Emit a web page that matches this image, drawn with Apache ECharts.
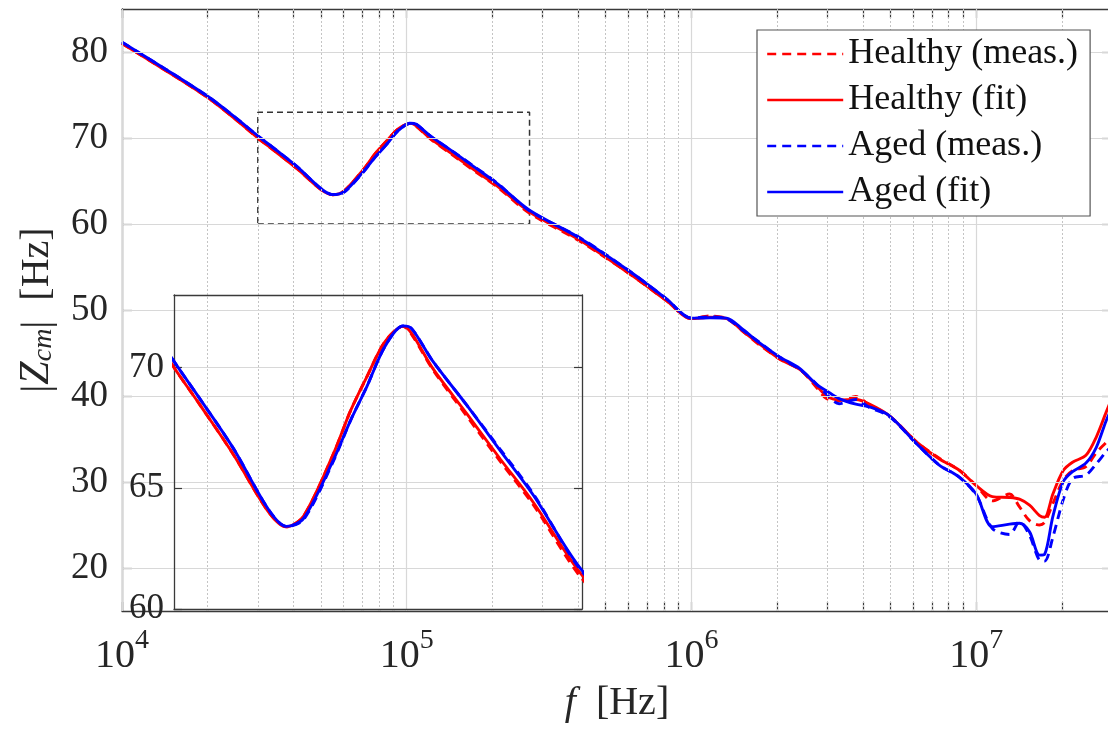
<!DOCTYPE html>
<html><head><meta charset="utf-8">
<script src="https://cdn.jsdelivr.net/npm/echarts@6/dist/echarts.min.js"></script>
<style>html,body{margin:0;padding:0;background:#fff}#c{width:1108px;height:733px}</style>
</head><body><div id="c"></div>
<script>
// ---- data ----
const freq = [1e4,1.4e4,2e4,2.5e4,3e4,3.45e4,4.13e4,5e4,5.5e4,6.03e4,
  7.07e4,7.76e4,8.47e4,9.33e4,1.03e5,1.08e5,1.21e5,1.45e5,1.74e5,2.08e5,
  2.7e5,4.06e5,6.07e5,8.17e5,1e6,1.16e6,1.33e6,1.52e6,1.74e6,2.04e6,
  2.4e6,2.75e6,2.98e6,3.3e6,3.78e6,4.2e6,4.96e6,6.2e6,7.4e6,8.7e6,
  1e7,1.14e7,1.31e7,1.42e7,1.54e7,1.67e7,1.74e7,1.86e7,2.02e7,2.18e7,
  2.43e7,2.64e7,2.86e7,3e7];
const healthyMeas = [81.0,78.0,74.7,72.2,70.0,68.45,66.4,64.0,63.4,63.85,
  66.4,68.2,69.6,71.05,71.7,71.35,69.9,68.0,66.1,64.3,
  61.25,58.0,54.2,51.1,49.0,49.3,49.0,47.5,45.9,44.3,
  43.1,41.0,39.7,39.45,39.95,39.0,37.7,34.6,32.8,31.4,
  29.6,27.8,28.6,27.1,25.5,25.0,25.3,27.5,30.2,31.3,
  31.8,33.4,34.6,35.4];
const healthyFit = [81.0,78.0,74.7,72.2,70.0,68.45,66.4,64.0,63.4,63.85,
  66.4,68.2,69.6,71.05,71.7,71.4,69.95,68.1,66.2,64.4,
  61.4,58.1,54.2,51.1,49.0,49.15,49.0,47.5,46.0,44.3,
  43.1,41.2,40.0,39.55,39.6,39.1,37.7,34.6,32.7,31.4,
  29.6,28.3,28.2,28.0,27.3,26.1,25.9,28.6,31.3,32.3,
  33.1,35.2,38.1,39.8];
const agedMeas = [81.15,78.15,74.85,72.4,70.25,68.7,66.65,64.1,63.42,63.7,
  66.1,67.8,69.2,70.85,71.72,71.6,70.25,68.45,66.6,64.75,
  61.55,58.4,54.5,51.3,49.05,49.2,49.0,47.6,46.2,44.5,
  43.1,41.4,40.2,39.1,39.6,38.7,37.6,34.4,32.0,30.6,
  28.5,24.6,23.9,25.4,23.8,20.9,20.8,23.6,27.9,30.4,
  30.8,32.1,33.5,34.2];
const agedFit = [81.15,78.15,74.85,72.4,70.25,68.7,66.65,64.1,63.42,63.75,
  66.15,67.8,69.2,70.85,71.72,71.6,70.25,68.45,66.55,64.7,
  61.6,58.35,54.5,51.3,49.05,49.1,49.05,47.7,46.15,44.55,
  43.2,41.35,40.6,39.7,39.05,38.75,37.7,34.4,32.0,30.6,
  28.6,24.8,25.1,25.2,24.2,21.5,21.6,26.0,30.0,31.2,
  32.2,34.0,37.1,38.6];
const seriesNames = ['Healthy (meas.)','Healthy (fit)','Aged (meas.)','Aged (fit)'];
const xMajorTicks = [1e4,1e5,1e6,1e7];
const xMinorTicks = [2e4,3e4,4e4,5e4,6e4,7e4,8e4,9e4,2e5,3e5,4e5,5e5,6e5,7e5,8e5,9e5,
  2e6,3e6,4e6,5e6,6e6,7e6,8e6,9e6,2e7];
const yTicks = [20,30,40,50,60,70,80];
const insetYTicks = [60,65,70];
const insetYGrid = [65,70];
const zoomBox = [[3e4,60],[2.7e5,60],[2.7e5,73],[3e4,73],[3e4,60]];

// ---- chart ----
const serif = '"Liberation Serif","DejaVu Serif",serif';
const txt = '#262626';
const axisCol = '#3a3a3a';
const xAllTicks = xMajorTicks.concat(xMinorTicks).sort((a,b)=>a-b);
const pairs = v => freq.map((f,i)=>[f, v[i]]);

const styles = [
  {vals: healthyMeas, color:'#ff0000', dash:[9,6]},
  {vals: healthyFit, color:'#ff0000', dash:'solid'},
  {vals: agedMeas, color:'#0000ff', dash:[9,6]},
  {vals: agedFit, color:'#0000ff', dash:'solid'}
];
function curve(i, xi, yi, z){
  const s = styles[i];
  return {type:'line', name: seriesNames[i], data: pairs(s.vals), xAxisIndex:xi, yAxisIndex:yi,
    showSymbol:false, symbol:'none', smooth:0.3, z:z, clip:true,
    lineStyle:{color:s.color, width:2.9, type:s.dash}, itemStyle:{color:s.color}, animation:false};
}

const gridLines = [];
xMajorTicks.forEach(v=>gridLines.push({xAxis:v, lineStyle:{type:'solid', color:'#d8d8d8', width:1.2}}));
xMinorTicks.forEach(v=>gridLines.push({xAxis:v, lineStyle:{type:[2,2], color:'#c4c4c4', width:1}}));
yTicks.forEach(v=>gridLines.push({yAxis:v, lineStyle:{type:'solid', color:'#d8d8d8', width:1.2}}));

const series = [
  {type:'line', data:[], xAxisIndex:0, yAxisIndex:0, z:1, silent:true,
   markLine:{silent:true, symbol:['none','none'], label:{show:false}, animation:false, data: gridLines}},
  {type:'line', data: zoomBox, xAxisIndex:0, yAxisIndex:0, z:2, showSymbol:false, symbol:'none', silent:true,
   lineStyle:{color:'#333', width:1.5, type:[6,4]}, animation:false},
  curve(0,0,0,3), curve(1,0,0,3), curve(2,0,0,3), curve(3,0,0,3),
  {type:'line', data:[], xAxisIndex:2, yAxisIndex:2, z:6, silent:true,
   markLine:{silent:true, symbol:['none','none'], label:{show:false}, animation:false,
     data: insetYGrid.map(v=>({yAxis:v, lineStyle:{type:'solid', color:'#d8d8d8', width:1.2}}))}},
  curve(0,2,2,7), curve(1,2,2,7), curve(2,2,2,7), curve(3,2,2,7)
];

const tickStyle = {color: axisCol, width:1.2};
const lineStyleAx = {color: axisCol, width:1.3};

const option = {
  animation:false,
  backgroundColor:'#fff',
  grid:[
    {left:122, top:9, right:-4, bottom:122, containLabel:false, outerBoundsMode:'none'},
    {left:174, top:295, width:408, height:314, show:true, backgroundColor:'#fff', borderWidth:0, z:5, containLabel:false, outerBoundsMode:'none'}
  ],
  legend:{
    orient:'vertical', left:757, top:30, data: seriesNames,
    itemWidth:76, itemHeight:20, itemGap:10, padding:[6,12,6,9],
    backgroundColor:'#fff', borderColor:'#555', borderWidth:1.2, z:10,
    itemStyle:{opacity:0}, lineStyle:{opacity:1, width:2.4},
    textStyle:{fontSize:36, fontFamily:serif, color:'#111', lineHeight:36}
  },
  xAxis:[
    {type:'log', logBase:10, min:1e4, max:3e7, gridIndex:0, position:'bottom',
     axisLine:{show:true, onZero:false, lineStyle:lineStyleAx},
     axisTick:{show:true, inside:true, length:9, customValues:xAllTicks, lineStyle:tickStyle},
     axisLabel:{customValues:xMajorTicks, margin:16, color:txt,
       formatter: v => '{b|10}{s|' + Math.round(Math.log10(v)) + '}',
       rich:{b:{fontSize:40, fontFamily:serif, color:txt},
             s:{fontSize:28, fontFamily:serif, color:txt, verticalAlign:'bottom', padding:[0,0,30,0]}}},
     splitLine:{show:false}, minorTick:{show:false},
     name:'{i|f}\u2002[Hz]', nameLocation:'middle', nameGap:72,
     nameTextStyle:{fontSize:40, fontFamily:serif, color:txt,
       rich:{i:{fontSize:40, fontFamily:serif, fontStyle:'italic', color:txt}}}},
    {type:'log', logBase:10, min:1e4, max:3e7, gridIndex:0, position:'top',
     axisLine:{show:true, onZero:false, lineStyle:lineStyleAx},
     axisTick:{show:true, inside:true, length:9, customValues:xAllTicks, lineStyle:tickStyle},
     axisLabel:{show:false}, splitLine:{show:false}},
    {type:'log', logBase:10, min:3e4, max:2.7e5, gridIndex:1, position:'bottom', z:6,
     axisLine:{show:true, onZero:false, lineStyle:lineStyleAx},
     axisTick:{show:false}, axisLabel:{show:false}, splitLine:{show:false}},
    {type:'log', logBase:10, min:3e4, max:2.7e5, gridIndex:1, position:'top', z:6,
     axisLine:{show:true, onZero:false, lineStyle:lineStyleAx},
     axisTick:{show:false}, axisLabel:{show:false}, splitLine:{show:false}}
  ],
  yAxis:[
    {type:'value', min:15, max:85, gridIndex:0, position:'left',
     axisLine:{show:true, onZero:false, lineStyle:lineStyleAx},
     axisTick:{show:true, inside:true, length:10, customValues:yTicks, lineStyle:tickStyle},
     axisLabel:{customValues:yTicks, fontSize:37, fontFamily:serif, color:txt, margin:14},
     splitLine:{show:false},
     name:'|{i|Z}{sub|cm}|\u2002[Hz]', nameLocation:'middle', nameGap:64, nameRotate:90,
     nameTextStyle:{fontSize:40, fontFamily:serif, color:txt,
       rich:{i:{fontSize:42, fontFamily:serif, fontStyle:'italic', color:txt},
             sub:{fontSize:28, fontFamily:serif, fontStyle:'italic', color:txt, verticalAlign:'bottom'}}}},
    {type:'value', min:15, max:85, gridIndex:0, position:'right',
     axisLine:{show:true, onZero:false, lineStyle:lineStyleAx},
     axisTick:{show:true, inside:true, length:10, customValues:yTicks, lineStyle:tickStyle},
     axisLabel:{show:false}, splitLine:{show:false}},
    {type:'value', min:60, max:73, gridIndex:1, position:'left', z:6,
     axisLine:{show:true, onZero:false, lineStyle:lineStyleAx},
     axisTick:{show:true, inside:true, length:8, customValues:insetYTicks, lineStyle:tickStyle},
     axisLabel:{customValues:insetYTicks, fontSize:35, fontFamily:serif, color:txt, margin:10},
     splitLine:{show:false}},
    {type:'value', min:60, max:73, gridIndex:1, position:'right', z:6,
     axisLine:{show:true, onZero:false, lineStyle:lineStyleAx},
     axisTick:{show:true, inside:true, length:8, customValues:insetYTicks, lineStyle:tickStyle},
     axisLabel:{show:false}, splitLine:{show:false}}
  ],
  series: series
};
const chart = echarts.init(document.getElementById('c'), null, {renderer:'canvas'});
chart.setOption(option);
</script>
</body></html>
